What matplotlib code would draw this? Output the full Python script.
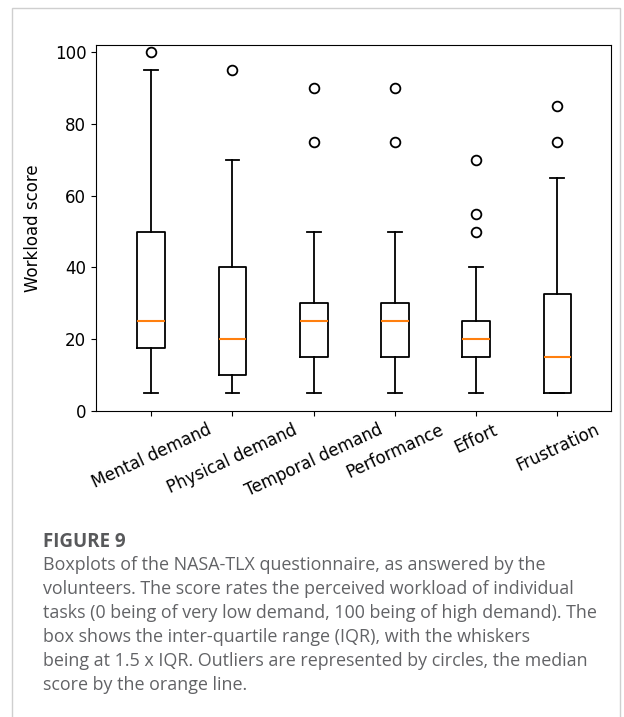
import matplotlib
matplotlib.use("Agg")
import matplotlib.pyplot as plt
from matplotlib.patches import Rectangle

categories = ["Mental demand", "Physical demand", "Temporal demand",
              "Performance", "Effort", "Frustration"]
whislo = [5, 5, 5, 5, 5, 5]
q1 = [17.5, 10, 15, 15, 15, 5]
med = [25, 20, 25, 25, 20, 15]
q3 = [50, 40, 30, 30, 25, 32.5]
whishi = [95, 70, 50, 50, 40, 65]
fliers = [[100], [95], [75, 90], [75, 90], [50, 55, 70], [75, 85]]
yticks = [0, 20, 40, 60, 80, 100]

caption_title = "FIGURE 9"
caption_lines = [
    "Boxplots of the NASA-TLX questionnaire, as answered by the",
    "volunteers. The score rates the perceived workload of individual",
    "tasks (0 being of very low demand, 100 being of high demand). The",
    "box shows the inter-quartile range (IQR), with the whiskers",
    "being at 1.5 x IQR. Outliers are represented by circles, the median",
    "score by the orange line.",
]

W, H = 624, 717
fig = plt.figure(figsize=(W / 100, H / 100), dpi=100)

# outer frame
fig.patches.append(Rectangle((12 / W, -0.01), (620 - 12) / W, 1 - 8 / H + 0.01,
                             transform=fig.transFigure, fill=False,
                             edgecolor="#cfcfcf", linewidth=1.0))

ax = fig.add_axes([96 / W, 1 - 411 / H, (611 - 96) / W, (411 - 45) / H])

stats = []
for i in range(len(categories)):
    stats.append(dict(label=categories[i], whislo=whislo[i], q1=q1[i], med=med[i],
                      q3=q3[i], whishi=whishi[i], fliers=fliers[i]))
positions = list(range(1, len(categories) + 1))
ax.bxp(stats, positions=positions, widths=0.34,
       boxprops=dict(color="black", linewidth=1.3),
       whiskerprops=dict(color="black", linewidth=1.3),
       capprops=dict(color="black", linewidth=1.3),
       medianprops=dict(color="#ff7f0e", linewidth=1.5),
       flierprops=dict(marker="o", markerfacecolor="none", markeredgecolor="black",
                       markersize=7, markeredgewidth=1.3))

ax.set_xlim(0.32, 6.66)
ax.set_ylim(0, 102)
ax.set_yticks(yticks)
ax.tick_params(labelsize=12)
ax.set_ylabel("Workload score", fontsize=12)
ax.yaxis.set_label_coords(-0.105, 0.5)
ax.set_xticks(positions)
ax.set_xticklabels(categories, rotation=25, ha="center", fontsize=12)

cap_font = ["Open Sans", "DejaVu Sans"]
fig.text(43 / W, 1 - 542 / H, caption_title, fontsize=13.5, fontweight="bold",
         color="#58595b", family=cap_font, va="center", ha="left")
for k, line in enumerate(caption_lines):
    fig.text(43 / W, 1 - (565 + 24 * k) / H, line, fontsize=12.9,
             color="#626366", family=cap_font, va="center", ha="left")

fig.savefig("out.png", dpi=100)
